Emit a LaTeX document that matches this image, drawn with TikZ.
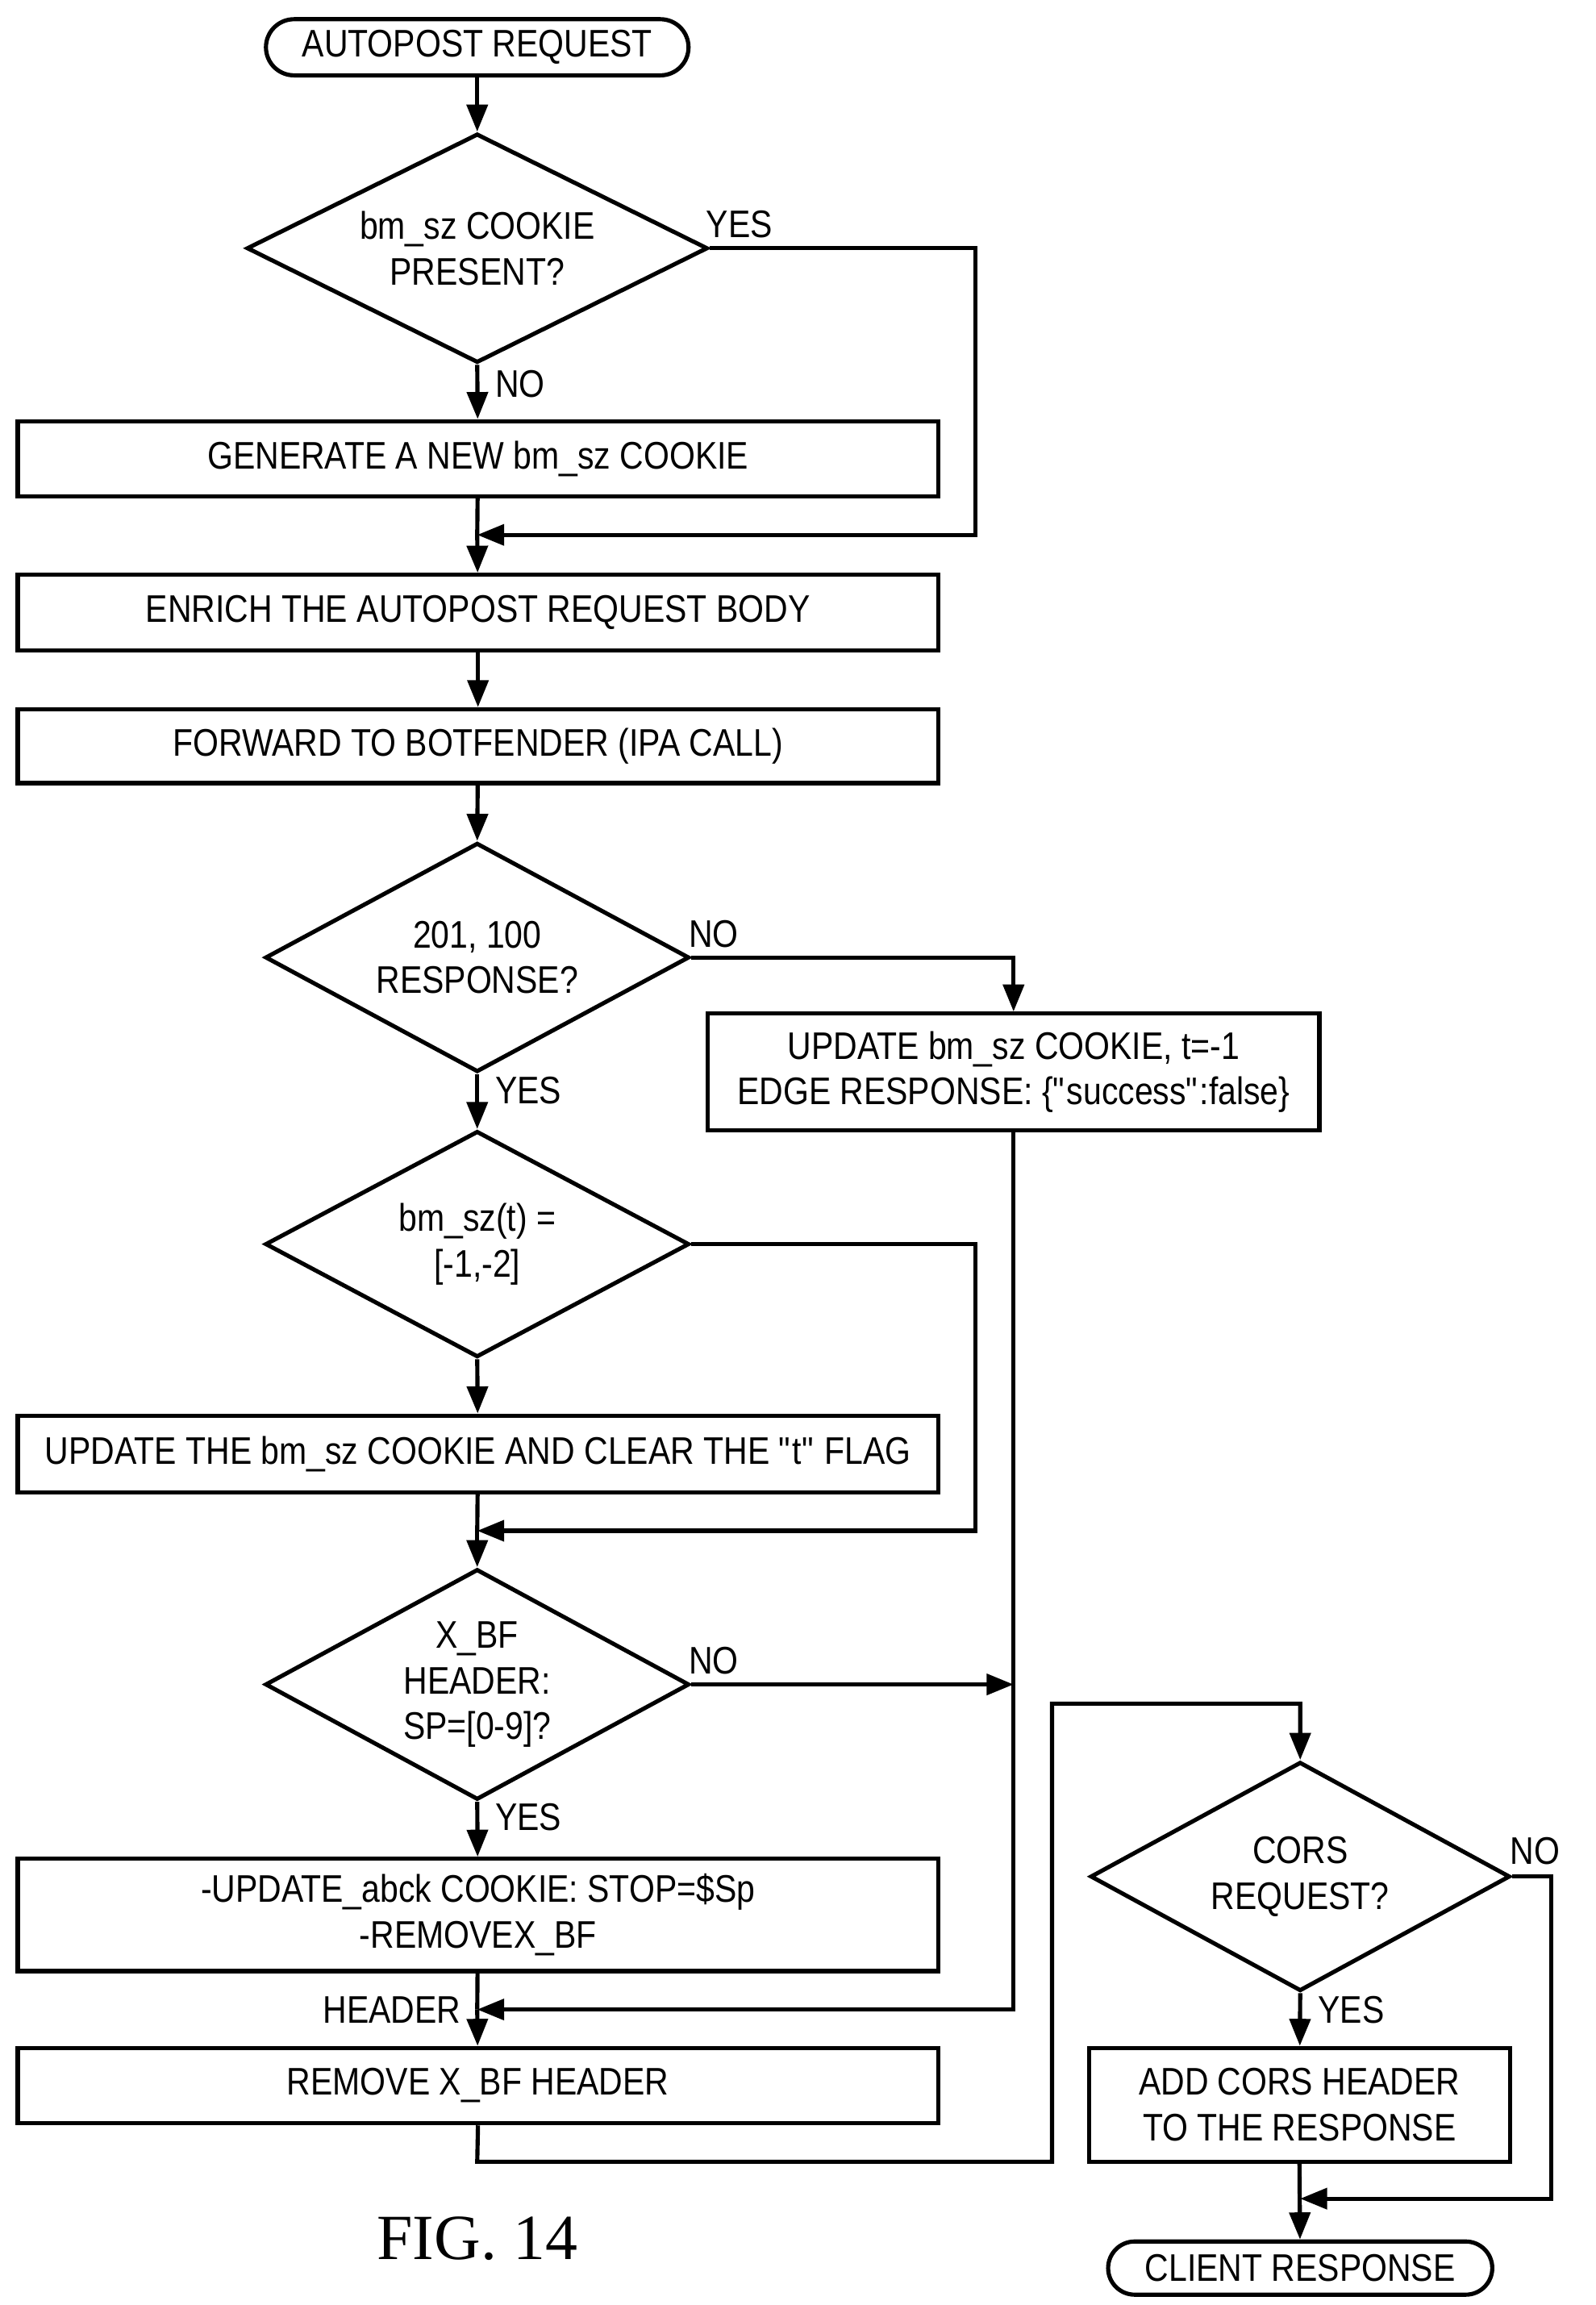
\documentclass[tikz,border=0pt]{standalone}
\usepackage{fontspec}
\setmainfont[FakeStretch=0.86]{Liberation Sans}
\newfontfamily\figfont{Liberation Serif}
\usetikzlibrary{shapes.geometric,arrows.meta}
\begin{document}
\begin{tikzpicture}[x=0.05cm,y=-0.05cm,
  every node/.style={font=\fontsize{37}{44}\selectfont},
  ln/.style={line width=4pt},
  ar/.style={ln,-{Triangle[length=26pt,width=20pt]}},
  box/.style={draw,line width=4pt,align=center,inner sep=0pt},
  lbl/.style={inner sep=0pt,anchor=west}]
\useasboundingbox (0,0) rectangle (1080,1560);
\tikzset{bx/.style args={#1/#2/#3/#4}{box,minimum width={(#3-#1)*0.05cm},minimum height={(#4-#2)*0.05cm}}}
\node[box,rounded corners=19*0.05cm,minimum width=286*0.05cm,minimum height=38*0.05cm] (start) at (323,32) {AUTOPOST REQUEST};
\node[box,diamond,aspect=2,minimum width=312*0.05cm,minimum height=155*0.05cm] (d1) at (323,168) {};
\node[align=center] at (323,168) {bm\_sz COOKIE\\PRESENT?};
\node[bx=12/285/635/336] (b1) at (323.5,310.5) {GENERATE A NEW bm\_sz COOKIE};
\node[bx=12/389/635/440] (b2) at (323.5,414.5) {ENRICH THE AUTOPOST REQUEST BODY};
\node[bx=12/480/635/530] (b3) at (323.5,505) {FORWARD TO BOTFENDER (IPA CALL)};
\node[box,diamond,aspect=1.85,minimum width=287*0.05cm,minimum height=155*0.05cm] (d2) at (323,648) {};
\node[align=center] at (323,648) {201, 100\\RESPONSE?};
\node[bx=479/686/893/765] (b4) at (686,725.5) {UPDATE bm\_sz COOKIE, t=-1\\EDGE RESPONSE: \{\textquotedbl success\textquotedbl:false\}};
\node[box,diamond,aspect=1.85,minimum width=287*0.05cm,minimum height=153*0.05cm] (d3) at (323,842) {};
\node[align=center] at (323,842) {bm\_sz(t) =\\{[}-1,-2{]}};
\node[bx=12/958/635/1010] (b5) at (323.5,984) {UPDATE THE bm\_sz COOKIE AND CLEAR THE \textquotedbl t\textquotedbl\ FLAG};
\node[box,diamond,aspect=1.85,minimum width=287*0.05cm,minimum height=156*0.05cm] (d4) at (323,1140) {};
\node[align=center] at (323,1140) {X\_BF\\HEADER:\\SP={[}0-9{]}?};
\node[bx=12/1258/635/1334] (b6) at (323.5,1296) {-UPDATE\_abck COOKIE: STOP=\$Sp\\-REMOVEX\_BF};
\node[bx=12/1386/635/1437] (b7) at (323.5,1411.5) {REMOVE X\_BF HEADER};
\node[box,diamond,aspect=1.83,minimum width=284*0.05cm,minimum height=155*0.05cm] (d5) at (880,1270) {};
\node[align=center] at (880,1270) {CORS\\REQUEST?};
\node[bx=737/1386/1022/1463] (b8) at (879.5,1424.5) {ADD CORS HEADER\\TO THE RESPONSE};
\node[box,rounded corners=18*0.05cm,minimum width=260*0.05cm,minimum height=36*0.05cm] (end) at (880,1535) {CLIENT RESPONSE};
\node[font=\figfont\fontsize{62}{70}\selectfont] (fig) at (323,1515) {FIG. 14};
% connectors
\coordinate (j1) at (323,362);
\coordinate (j2) at (323,1036);
\coordinate (j3) at (323,1360);
\coordinate (v) at (686,1140);
\coordinate (j5) at (880,1488);
\draw[ar] (start) -- (d1.north);
\draw[ar] (d1.south) -- (b1);
\draw[ln] (b1) -- (j1);
\draw[ar] (d1.east) -- (660,168) -- (660,362) -- (j1);
\draw[ar] (j1) -- (b2);
\draw[ar] (b2) -- (b3);
\draw[ar] (b3) -- (d2.north);
\draw[ar] (d2.east) -- (686,648) -- (b4.north);
\draw[ar] (d2.south) -- (d3.north);
\draw[ar] (d3.south) -- (b5);
\draw[ln] (b5) -- (j2);
\draw[ar] (d3.east) -- (660,842) -- (660,1036) -- (j2);
\draw[ar] (j2) -- (d4.north);
\draw[ar] (d4.east) -- (v);
\draw[ar] (b4.south) -- (686,1360) -- (j3);
\draw[ar] (d4.south) -- (b6);
\draw[ln] (b6) -- (j3);
\draw[ar] (j3) -- (b7);
\draw[ar] (b7.south) -- (323,1463) -- (712,1463) -- (712,1153) -- (880,1153) -- (d5.north);
\draw[ar] (d5.south) -- (b8);
\draw[ar] (d5.east) -- (1050,1270) -- (1050,1488) -- (j5);
\draw[ar] (b8.south) -- (end);
% labels
\node[lbl] at (478,152) {YES};
\node[lbl] at (335,260) {NO};
\node[lbl] at (466,632) {NO};
\node[lbl] at (335,738) {YES};
\node[lbl] at (466,1124) {NO};
\node[lbl] at (335,1230) {YES};
\node[lbl,anchor=east] at (312,1360) {HEADER};
\node[lbl] at (1022,1253) {NO};
\node[lbl] at (892,1360) {YES};
\end{tikzpicture}
\end{document}
